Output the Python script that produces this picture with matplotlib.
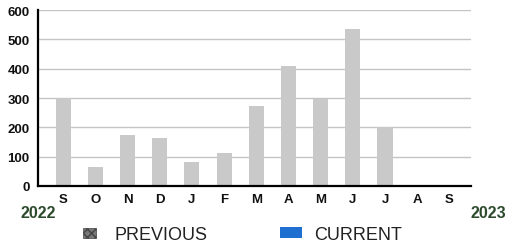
import matplotlib
matplotlib.use("Agg")
import matplotlib.pyplot as plt
from matplotlib.patches import Rectangle

months = ["S", "O", "N", "D", "J", "F", "M", "A", "M", "J", "J", "A", "S"]
previous = [300, 65, 175, 165, 82, 113, 273, 410, 297, 536, 200, 0, 0]
yticks = [0, 100, 200, 300, 400, 500, 600]
start_year = "2022"
end_year = "2023"

W, H = 507, 251
fig = plt.figure(figsize=(W / 100, H / 100), dpi=100)
ax = fig.add_axes([38 / W, (H - 187) / H, (471 - 38) / W, (187 - 11) / H])

x = list(range(len(months)))
ax.bar(x, previous, width=0.47, color="#c9c9c9", zorder=2)
ax.set_xlim(-0.78, 12.67)
ax.set_ylim(0, 600)
ax.set_yticks(yticks)
ax.set_xticks(x)
ax.set_xticklabels(months)
ax.grid(axis="y", color="#c4c4c4", linewidth=1.0, zorder=0)
for s in ["top", "right"]:
    ax.spines[s].set_visible(False)
ax.spines["left"].set_linewidth(1.6)
ax.spines["bottom"].set_linewidth(1.6)
ax.tick_params(axis="both", length=0, labelsize=9.5, colors="#111111")
ax.tick_params(axis="x", pad=5)
ax.tick_params(axis="y", pad=6)
for lab in ax.get_xticklabels() + ax.get_yticklabels():
    lab.set_fontfamily("Liberation Sans")
    lab.set_fontweight("bold")

fig.text(38 / W, 1 - 214 / H, start_year, ha="center", va="center",
         fontsize=11.5, color="#2d4a2d", fontweight="bold", family="Liberation Sans")
fig.text(488 / W, 1 - 214 / H, end_year, ha="center", va="center",
         fontsize=11.5, color="#2d4a2d", fontweight="bold", family="Liberation Sans")

# legend
fig.patches.append(Rectangle((83 / W, 1 - 239 / H), 13 / W, 10 / H,
                             transform=fig.transFigure, facecolor="#777777",
                             edgecolor="#444444", hatch="xxxx", linewidth=0.5))
fig.text(114 / W, 1 - 236 / H, "PREVIOUS", ha="left", va="center",
         fontsize=13, color="#222222", family="Liberation Sans")
fig.patches.append(Rectangle((280 / W, 1 - 239 / H), 22 / W, 11 / H,
                             transform=fig.transFigure, facecolor="#1f6fd0",
                             edgecolor="none"))
fig.text(314 / W, 1 - 236 / H, "CURRENT", ha="left", va="center",
         fontsize=13, color="#222222", family="Liberation Sans")

fig.savefig("out.png", dpi=100)
